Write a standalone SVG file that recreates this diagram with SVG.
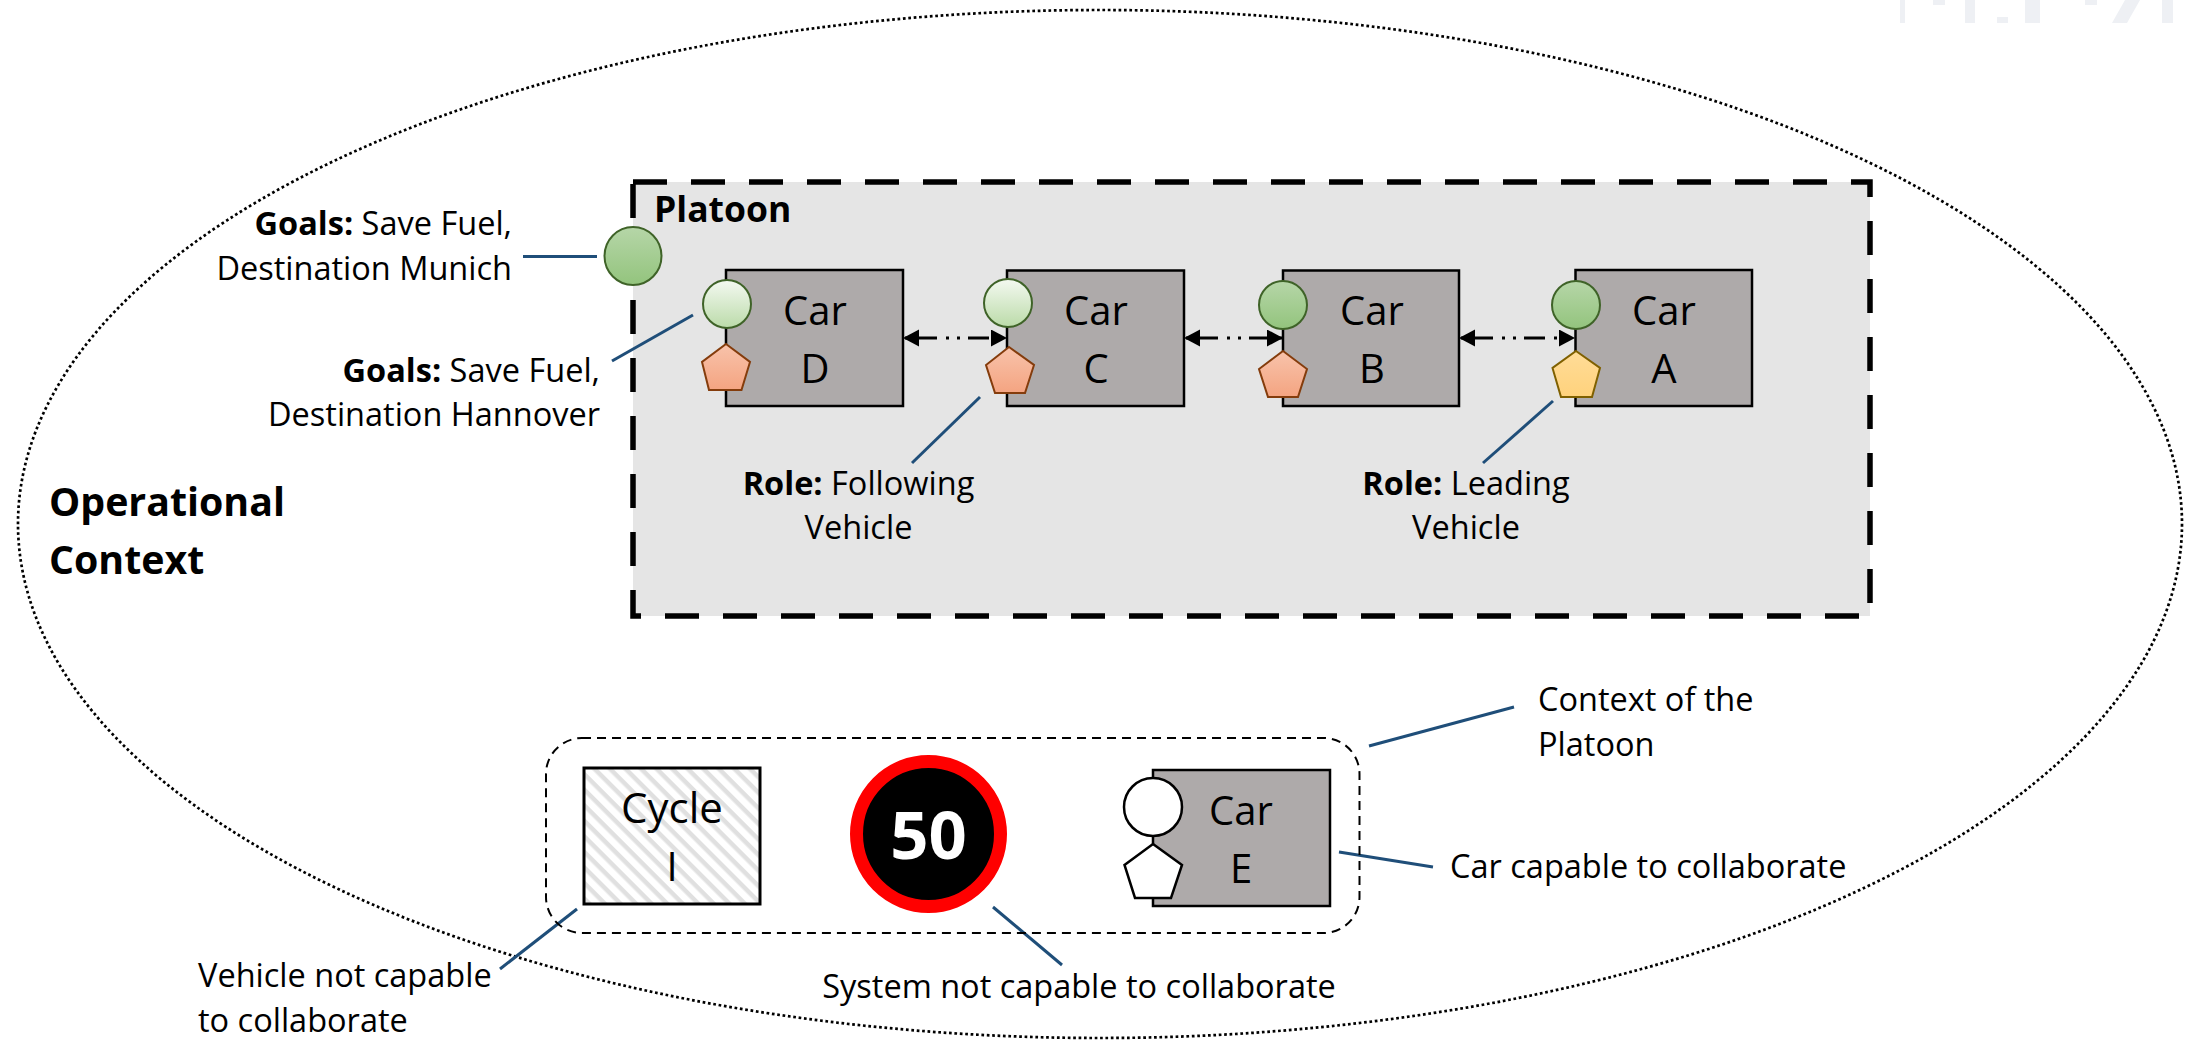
<svg xmlns="http://www.w3.org/2000/svg" width="2186" height="1042" viewBox="0 0 2186 1042">
<style>
text{font-family:"Open Sans","Noto Sans",sans-serif;fill:#000}
.t{font-size:32.500px}
.b{font-weight:700}
.c{font-size:40px;text-anchor:middle}
.e{text-anchor:end}
.m{text-anchor:middle}
.car{fill:#aeaaaa;stroke:#000;stroke-width:2.5}
.ln{stroke:#1f4e79;stroke-width:3;fill:none}
.ar{stroke:#000;stroke-width:3;fill:none;stroke-dasharray:21 9 3 8 3 8;stroke-dashoffset:39;marker-start:url(#ah);marker-end:url(#ah)}
.dg{fill:url(#dg);stroke:#3f6328;stroke-width:2}
.lg{fill:url(#lg);stroke:#3f6328;stroke-width:2}
.or{fill:url(#or);stroke:#843c0c;stroke-width:2}
.ye{fill:url(#ye);stroke:#7f6000;stroke-width:2}
.wh{fill:#fff;stroke:#000;stroke-width:2.5}
.wm{fill:#eef0f4}
</style>
<defs>
<linearGradient id="dg" x1="0" y1="0" x2="0" y2="1"><stop offset="0" stop-color="#b6d6a8"/><stop offset="1" stop-color="#93c47d"/></linearGradient>
<linearGradient id="lg" x1="0" y1="0" x2="0" y2="1"><stop offset="0" stop-color="#f4f9f1"/><stop offset="1" stop-color="#bbdba9"/></linearGradient>
<linearGradient id="or" x1="0" y1="0" x2="0" y2="1"><stop offset="0" stop-color="#f8c3ab"/><stop offset="1" stop-color="#f4a481"/></linearGradient>
<linearGradient id="ye" x1="0" y1="0" x2="0" y2="1"><stop offset="0" stop-color="#ffdc98"/><stop offset="1" stop-color="#ffd27c"/></linearGradient>
<pattern id="hatch" width="11" height="11" patternUnits="userSpaceOnUse" patternTransform="rotate(45)"><rect width="11" height="11" fill="#fff"/><rect width="11" height="4.500" fill="#e0e0e0"/></pattern>
<marker id="ah" markerUnits="userSpaceOnUse" markerWidth="17" markerHeight="18" refX="16" refY="8.500" orient="auto-start-reverse"><path d="M0 0L16 8.500L0 17Z" fill="#000"/></marker>
</defs>
<rect width="2186" height="1042" fill="#fff"/>
<g id="watermark">
<rect class="wm" x="1900" y="0" width="5" height="23"/>
<rect class="wm" x="1933" y="0" width="12" height="5"/>
<rect class="wm" x="1965" y="0" width="10" height="23"/>
<rect class="wm" x="1997" y="17" width="11" height="6"/>
<rect class="wm" x="2025" y="0" width="15" height="23"/>
<rect class="wm" x="2085" y="0" width="12" height="5"/>
<path class="wm" d="M2125 0H2140L2127 23H2112Z"/>
<rect class="wm" x="2162" y="0" width="11" height="23"/>
</g>
<g id="operational-context">
<ellipse cx="1100" cy="524" rx="1082" ry="514" fill="none" stroke="#000" stroke-width="2.700" stroke-dasharray="2.700 2.700"/>
<text class="b" font-size="39.300" x="49" y="516">Operational</text>
<text class="b" font-size="39.300" x="49" y="574">Context</text>
</g>
<g id="platoon">
<rect x="633" y="182" width="1237" height="434" fill="#e5e5e5" stroke="#000" stroke-width="5.500" stroke-dasharray="34 24"/>
<text class="b" font-size="35.500" x="654" y="222">Platoon</text>
</g>
<g id="connectors">
<path class="ar" d="M903 338H1007"/>
<path class="ar" d="M1184 338H1283"/>
<path class="ar" d="M1459 338H1575"/>
<path class="ln" d="M523 256.500H597"/>
<path class="ln" d="M693 315L612 361"/>
<path class="ln" d="M980 397L912 463"/>
<path class="ln" d="M1553 401L1483 463"/>
<path class="ln" d="M577 909L500 969"/>
<path class="ln" d="M993 907L1062 965"/>
<path class="ln" d="M1339 852L1433 867"/>
<path class="ln" d="M1369 746L1514 707"/>
</g>
<g id="platoon-goal"><ellipse class="dg" cx="633" cy="256" rx="28.500" ry="29"/></g>
<g id="car-d">
<rect class="car" x="726" y="270" width="177" height="136"/>
<circle class="lg" cx="727" cy="304" r="24"/>
<path class="or" d="M726 344L750 362L741.500 390H709L702 362Z"/>
<text class="c" x="815" y="325">Car</text><text class="c" x="815" y="383">D</text>
</g>
<g id="car-c">
<rect class="car" x="1007" y="270.500" width="177" height="135.500"/>
<circle class="lg" cx="1008" cy="303" r="24"/>
<path class="or" d="M1009 347L1034 365L1025 393H995L986 365Z"/>
<text class="c" x="1096" y="325">Car</text><text class="c" x="1096" y="383">C</text>
</g>
<g id="car-b">
<rect class="car" x="1283" y="270.500" width="176" height="135.500"/>
<circle class="dg" cx="1283" cy="305" r="24"/>
<path class="or" d="M1283 351L1307 369L1298 397H1268L1259 369Z"/>
<text class="c" x="1372" y="325">Car</text><text class="c" x="1372" y="383">B</text>
</g>
<g id="car-a">
<rect class="car" x="1575.500" y="270" width="176.500" height="136"/>
<circle class="dg" cx="1576" cy="305" r="24"/>
<path class="ye" d="M1576 351L1600 368L1592 397H1561L1552.500 368Z"/>
<text class="c" x="1664" y="325">Car</text><text class="c" x="1664" y="383">A</text>
</g>
<g id="context-box"><rect x="546" y="738" width="813.500" height="195" rx="36" fill="none" stroke="#000" stroke-width="2" stroke-dasharray="9 6"/></g>
<g id="cycle-i">
<rect x="584" y="768" width="176" height="136" fill="url(#hatch)" stroke="#000" stroke-width="3"/>
<text class="c" style="font-size:42px" x="672" y="823">Cycle</text><text class="c" x="672" y="881">I</text>
</g>
<g id="speed-sign">
<ellipse cx="928.500" cy="834" rx="72" ry="72.500" fill="#000" stroke="#f00" stroke-width="13"/>
<text class="b" font-size="67" style="fill:#fff" text-anchor="middle" x="928.500" y="859">50</text>
</g>
<g id="car-e">
<rect class="car" x="1153" y="770" width="177" height="136"/>
<circle class="wh" cx="1153" cy="807" r="29"/>
<path class="wh" d="M1153 844L1182 865L1171 898H1135L1124.500 865Z"/>
<text class="c" x="1241" y="825">Car</text><text class="c" x="1241" y="883">E</text>
</g>
<g id="labels">
<text class="t e" x="512" y="235"><tspan class="b">Goals:</tspan> Save Fuel,</text>
<text class="t e" x="512" y="280">Destination Munich</text>
<text class="t e" x="600" y="382"><tspan class="b">Goals:</tspan> Save Fuel,</text>
<text class="t e" x="600" y="426">Destination Hannover</text>
<text class="t m" x="858.500" y="495"><tspan class="b">Role:</tspan> Following</text>
<text class="t m" x="858.500" y="539">Vehicle</text>
<text class="t m" x="1466" y="495"><tspan class="b">Role:</tspan> Leading</text>
<text class="t m" x="1466" y="539">Vehicle</text>
<text class="t" x="1538" y="711">Context of the</text>
<text class="t" x="1538" y="756">Platoon</text>
<text class="t" x="1450" y="878">Car capable to collaborate</text>
<text class="t m" x="1079" y="998">System not capable to collaborate</text>
<text class="t" x="198" y="987">Vehicle not capable</text>
<text class="t" x="198" y="1032">to collaborate</text>
</g>
</svg>
